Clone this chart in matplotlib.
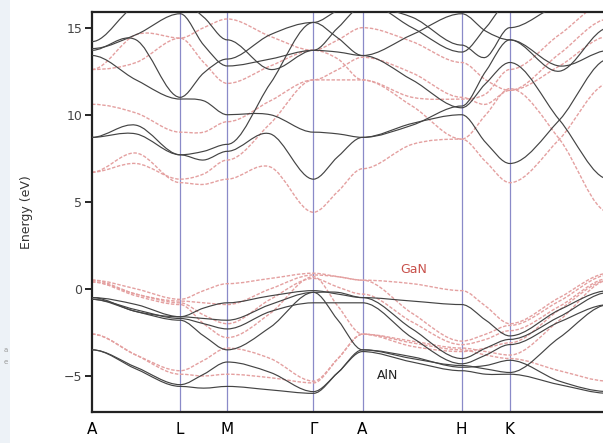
import numpy as np
import matplotlib
matplotlib.use("Agg")
import matplotlib.pyplot as plt
from matplotlib.path import Path
from matplotlib.patches import PathPatch, Rectangle

# k-path: high-symmetry points and the midpoint of each segment
kpath = [0, 44, 88, 111.5, 135, 178, 221, 245.5, 270, 319.5, 369, 393, 417, 466.5, 516]
sym_labels = ["A", "L", "M", "Γ", "A", "H", "K"]
sym_pos = [0, 88, 135, 221, 270, 369, 417]
vlines_pos = [88, 135, 221, 270, 369, 417]

# AlN bands (eV) at the kpath points
aln_valence = [
    [-0.5, -0.9, -1.6, -1.1, -0.8, -0.4, -0.1, -0.3, -0.5, -0.7, -0.9, -1.8, -2.7, -1.2, -0.1],
    [-0.5, -1.3, -1.6, -1.7, -1.8, -0.9, -0.2, -0.2, -0.5, -2.3, -4.0, -3.4, -2.9, -1.6, -0.2],
    [-0.6, -1.2, -1.7, -2.0, -2.3, -1.3, -0.8, -0.8, -0.8, -2.8, -4.3, -3.8, -3.2, -1.9, -0.9],
    [-0.6, -1.3, -1.8, -2.7, -3.5, -2.2, -0.2, -1.8, -3.5, -4.0, -4.4, -4.6, -4.8, -2.8, -0.9],
    [-3.5, -4.5, -5.5, -4.9, -4.2, -4.8, -5.9, -4.8, -3.5, -3.9, -4.5, -4.4, -4.1, -5.3, -5.9],
    [-3.5, -4.6, -5.6, -5.7, -5.6, -5.8, -6.0, -4.8, -3.6, -4.2, -4.7, -4.9, -4.9, -5.5, -6.0],
]
aln_conduction = [
    [8.7, 9.4, 7.7, 7.4, 7.9, 8.9, 6.3, 7.6, 8.7, 9.5, 10.0, 8.4, 7.2, 9.7, 13.2],
    [8.7, 8.9, 7.7, 7.9, 8.3, 11.8, 15.3, 14.4, 13.4, 12.0, 10.4, 11.8, 13.0, 9.7, 6.3],
    [13.4, 12.0, 10.9, 10.8, 10.0, 10.0, 9.0, 8.9, 8.7, 9.4, 10.5, 12.5, 14.3, 12.5, 15.0],
    [13.8, 14.6, 15.8, 14.0, 12.8, 13.2, 13.7, 13.6, 13.4, 14.6, 15.8, 14.8, 14.3, 12.8, 13.7],
    [14.2, 16.3, 16.5, 15.6, 14.3, 12.6, 13.7, 15.0, 16.2, 15.6, 14.0, 13.3, 15.0, 16.3, 16.5],
    [13.7, 14.3, 11.0, 12.4, 13.2, 14.6, 15.3, 16.0, 16.5, 15.0, 13.6, 15.0, 16.5, 17.0, 17.0],
]

# GaN bands (eV) at the kpath points
gan_valence = [
    [0.5, 0.0, -0.6, -0.1, 0.3, 0.6, 0.9, 0.7, 0.5, 0.3, -0.1, -1.0, -2.0, -0.5, 0.9],
    [0.5, -0.3, -0.7, -0.8, -0.9, 0.0, 0.8, 0.7, 0.5, -1.4, -3.0, -2.6, -2.1, -0.7, 0.8],
    [0.4, -0.3, -0.8, -1.5, -2.0, -0.6, 0.6, 0.1, -0.3, -1.9, -3.2, -2.9, -2.4, -1.0, 0.6],
    [0.4, -0.4, -0.9, -2.0, -2.8, -1.4, 0.7, -1.0, -2.6, -3.0, -3.4, -3.6, -3.8, -1.8, 0.5],
    [-2.6, -3.8, -4.7, -4.1, -3.4, -4.0, -5.3, -4.0, -2.6, -3.1, -3.5, -3.8, -4.0, -4.7, -5.3],
    [-2.6, -3.8, -4.9, -5.0, -4.9, -5.1, -5.4, -4.0, -2.6, -3.3, -3.6, -3.4, -3.1, -1.2, 0.5],
]
gan_conduction = [
    [6.7, 7.8, 6.1, 6.0, 6.3, 7.0, 4.4, 5.6, 6.9, 8.3, 8.6, 7.3, 6.1, 8.6, 11.8],
    [6.7, 7.2, 6.3, 6.6, 7.4, 9.5, 12.0, 12.0, 12.0, 10.5, 8.6, 10.0, 11.5, 8.6, 4.4],
    [10.6, 10.1, 9.0, 9.0, 9.6, 10.8, 12.0, 12.6, 13.3, 12.4, 11.0, 10.6, 11.4, 12.8, 14.5],
    [12.6, 14.6, 14.4, 13.0, 11.8, 12.8, 13.7, 14.3, 15.0, 14.2, 13.0, 12.0, 11.4, 13.5, 15.5],
    [12.6, 13.0, 14.4, 15.0, 15.5, 14.5, 13.7, 13.2, 12.0, 11.0, 10.9, 11.2, 12.6, 14.6, 16.5],
]

sym_idx = {0, 2, 4, 6, 8, 10, 12, 14}


def band_path(ks, es):
    n = len(ks)
    slopes = []
    for i in range(n):
        if i in sym_idx:
            slopes.append(0.0)
        else:
            slopes.append((es[i + 1] - es[i - 1]) / (ks[i + 1] - ks[i - 1]))
    verts = [(ks[0], es[0])]
    codes = [Path.MOVETO]
    for i in range(n - 1):
        dk = ks[i + 1] - ks[i]
        verts += [(ks[i] + dk / 3, es[i] + slopes[i] * dk / 3),
                  (ks[i + 1] - dk / 3, es[i + 1] - slopes[i + 1] * dk / 3),
                  (ks[i + 1], es[i + 1])]
        codes += [Path.CURVE4] * 3
    return Path(verts, codes)


fig = plt.figure(figsize=(6.03, 4.43), dpi=100)
fig.patch.set_facecolor("white")
fig.patches.append(Rectangle((0, 0), 10 / 603, 1, transform=fig.transFigure,
                             facecolor="#edf2f7", edgecolor="none", zorder=0))
fig.text(8 / 603, 1 - 350 / 443, "a", fontsize=5, color="#999999", ha="right", va="center")
fig.text(8 / 603, 1 - 362 / 443, "e", fontsize=5, color="#999999", ha="right", va="center")

ax = fig.add_axes([92 / 603, 31 / 443, 1 - 92 / 603 + 0.01, 400 / 443])
ax.set_xlim(0, 516)
ax.set_ylim(-7.07, 15.9)

for x in vlines_pos:
    ax.axvline(x, color="#8a8ac8", lw=0.9, zorder=1)

for band in gan_valence + gan_conduction:
    p = band_path(kpath, band)
    ax.add_patch(PathPatch(p, facecolor="none", edgecolor="#e4a0a0", lw=1.0,
                           linestyle=(0, (2.5, 1.2)), zorder=2))
for band in aln_valence + aln_conduction:
    p = band_path(kpath, band)
    ax.add_patch(PathPatch(p, facecolor="none", edgecolor="#444444", lw=0.85, zorder=3))

ax.text(308, 1.1, "GaN", color="#c8504a", fontsize=9, ha="left", va="center")
ax.text(284, -5.0, "AlN", color="#222222", fontsize=9, ha="left", va="center")

ax.set_yticks([-5, 0, 5, 10, 15])
ax.tick_params(axis="y", direction="out", length=5, width=1.2, labelsize=9,
               labelcolor="#444444", pad=2)
ax.set_xticks(sym_pos)
ax.set_xticklabels(sym_labels, fontsize=11)
ax.tick_params(axis="x", length=0, pad=7)
ax.set_ylabel("Energy (eV)", fontsize=9, color="#333333", labelpad=22)

for s in ["left", "bottom", "top"]:
    ax.spines[s].set_linewidth(1.6)
    ax.spines[s].set_color("#222222")
ax.spines["right"].set_visible(False)

fig.savefig("out.png", dpi=100)
